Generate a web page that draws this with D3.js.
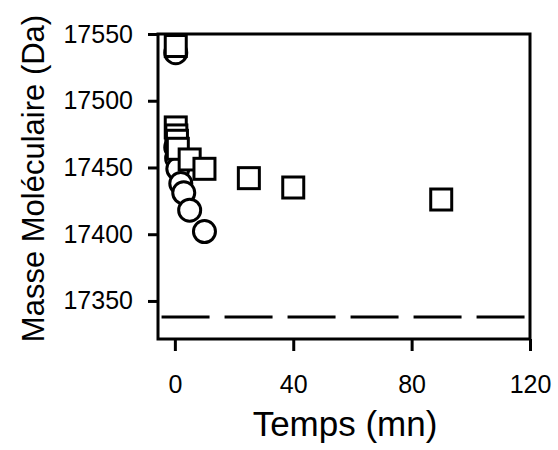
<!DOCTYPE html>
<html>
<head>
<meta charset="utf-8">
<script src="https://cdn.jsdelivr.net/npm/d3@7"></script>
<style>
  body { margin: 0; background: #fff; }
  text { font-family: "Liberation Sans", Arial, sans-serif; fill: #000; }
</style>
</head>
<body>
<div id="chart"></div>
<script>
// data
const circleTimes = [0.3, 0.3, 0.6, 1, 2, 3, 5, 10];
const circleMass = [17536, 17465, 17457, 17449, 17438, 17431, 17418, 17402];
const squareTimes = [0.3, 0.3, 0.5, 0.7, 1, 5, 10, 25, 40, 90];
const squareMass = [17541, 17480, 17474, 17470, 17464, 17456, 17449, 17442, 17435, 17426];
const refMass = 17338; // dashed line
const xTicks = [0, 40, 80, 120];
const yTicks = [17350, 17400, 17450, 17500, 17550];

const svgObj = { width: 558, height: 450 };
const margin = { left: 158, right: 28, top: 34, bottom: 111 };
const plotW = svgObj.width - margin.left - margin.right;
const plotH = svgObj.height - margin.top - margin.bottom;

const svg = d3
  .select("#chart")
  .append("svg")
  .attr("width", svgObj.width)
  .attr("height", svgObj.height);

const x = d3.scaleLinear().domain([-5.7, 120]).range([0, plotW]);
const y = d3.scaleLinear().domain([17321.5, 17550]).range([plotH, 0]);

const g = svg
  .append("g")
  .attr("transform", `translate(${margin.left}, ${margin.top})`);

// dashed reference line
g.append("line")
  .attr("x1", x(-4.5))
  .attr("x2", x(118.5))
  .attr("y1", y(refMass))
  .attr("y2", y(refMass))
  .attr("stroke", "black")
  .attr("stroke-width", 3)
  .attr("stroke-dasharray", "48,15");

// circles
circleTimes.forEach((t, i) => {
  g.append("circle")
    .attr("cx", x(t))
    .attr("cy", y(circleMass[i]))
    .attr("r", 11)
    .attr("fill", "white")
    .attr("stroke", "black")
    .attr("stroke-width", 3);
});

// squares
const sq = 21;
squareTimes.forEach((t, i) => {
  g.append("rect")
    .attr("x", x(t) - sq / 2)
    .attr("y", y(squareMass[i]) - sq / 2)
    .attr("width", sq)
    .attr("height", sq)
    .attr("fill", "white")
    .attr("stroke", "black")
    .attr("stroke-width", 3);
});

// frame
g.append("rect")
  .attr("x", 0)
  .attr("y", 0)
  .attr("width", plotW)
  .attr("height", plotH)
  .attr("fill", "none")
  .attr("stroke", "black")
  .attr("stroke-width", 3);

// axes
const xAxis = g
  .append("g")
  .attr("transform", `translate(0, ${plotH})`)
  .call(d3.axisBottom(x).tickValues(xTicks).tickSize(12).tickPadding(24));
const yAxis = g
  .append("g")
  .call(
    d3.axisLeft(y).tickValues(yTicks).tickFormat(d3.format("d")).tickSize(10).tickPadding(15)
  );

[xAxis, yAxis].forEach((a) => {
  a.select(".domain").remove();
  a.selectAll("line").attr("stroke", "black").attr("stroke-width", 3);
  a.selectAll("text").attr("font-size", 25).attr("fill", "black");
});

// titles
svg
  .append("text")
  .attr("x", 345)
  .attr("y", 436)
  .attr("text-anchor", "middle")
  .attr("font-size", 35)
  .text("Temps (mn)");

svg
  .append("text")
  .attr("transform", `translate(44, ${margin.top + plotH / 2 - 8}) rotate(-90)`)
  .attr("text-anchor", "middle")
  .attr("font-size", 31)
  .text("Masse Moléculaire (Da)");
</script>
</body>
</html>
